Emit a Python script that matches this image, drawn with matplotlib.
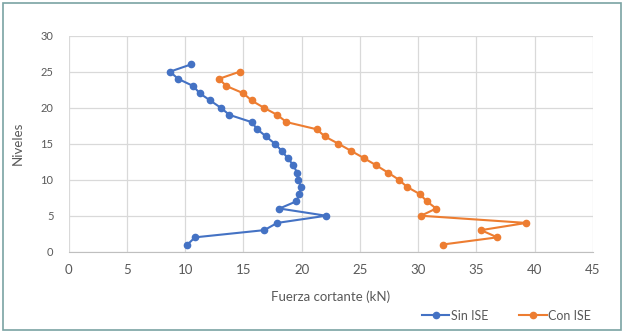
import numpy as np
import matplotlib.pyplot as plt
from matplotlib.patches import Rectangle

plt.rcParams['font.family'] = ['Lato', 'DejaVu Sans']

# niveles (pisos)
niveles_sin = list(range(1, 27))
niveles_con = list(range(1, 26))

# fuerza cortante (kN), nivel 1 -> arriba
sin_ise = [10.2, 10.85, 16.8, 17.9, 22.1, 18.1, 19.55, 19.8, 19.95, 19.7,
           19.6, 19.3, 18.8, 18.3, 17.7, 16.95, 16.2, 15.7, 13.8, 13.05,
           12.15, 11.25, 10.7, 9.4, 8.7, 10.5]
con_ise = [32.1, 36.8, 35.4, 39.3, 30.25, 31.55, 30.75, 30.15, 29.05, 28.35,
           27.4, 26.4, 25.35, 24.25, 23.15, 22.0, 21.3, 18.7, 17.9, 16.75,
           15.7, 15.0, 13.55, 12.9, 14.7]

xticks = [0, 5, 10, 15, 20, 25, 30, 35, 40, 45]
yticks = [0, 5, 10, 15, 20, 25, 30]

fig = plt.figure(figsize=(6.24, 3.33), dpi=100)
ax = fig.add_axes([0.110, 0.244, 0.840, 0.649])

ax.plot(sin_ise, niveles_sin, color='#4472c4', lw=1.5, marker='o', ms=4.5, label='Sin ISE')
ax.plot(con_ise, niveles_con, color='#ed7d31', lw=1.5, marker='o', ms=4.5, label='Con ISE')

ax.set_xlim(0, 45)
ax.set_ylim(0, 30)
ax.set_xticks(xticks)
ax.set_yticks(yticks)
ax.grid(True, color='#d9d9d9', lw=0.9)
ax.set_axisbelow(True)
for s in ['top', 'right', 'left']:
    ax.spines[s].set_visible(False)
ax.spines['bottom'].set_color('#bfbfbf')
ax.tick_params(length=0, colors='#595959', labelsize=9.5, pad=9)
ax.tick_params(axis='y', labelsize=8, pad=11)

ax.set_xlabel('Fuerza cortante (kN)', color='#595959', fontsize=9.5, labelpad=10)
ax.set_ylabel('Niveles', color='#595959', fontsize=9.5, labelpad=12)

fig.legend(loc='lower right', bbox_to_anchor=(0.965, 0.0), ncol=2, frameon=False,
           fontsize=9, labelcolor='#595959', handlelength=2.2, columnspacing=2.5,
           handletextpad=0.1)

fig.patches.append(Rectangle((0.005, 0.009), 0.99, 0.982, transform=fig.transFigure,
                             fill=False, ec='#7aa3a3', lw=1.2))

fig.savefig('out.png', dpi=100)
